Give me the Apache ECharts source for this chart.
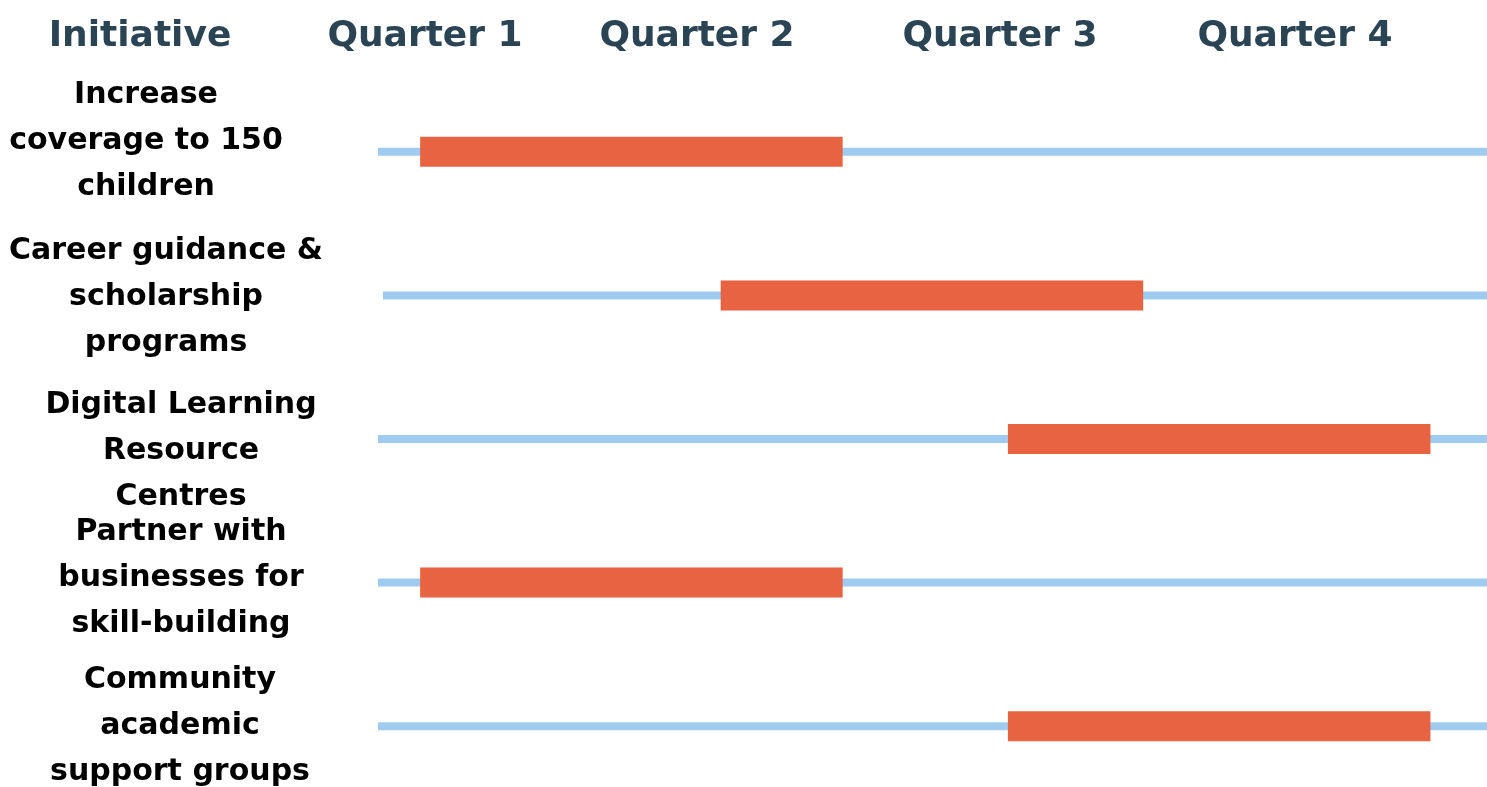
<!DOCTYPE html>
<html>
<head>
<meta charset="utf-8">
<script src="https://cdn.jsdelivr.net/npm/echarts@6/dist/echarts.min.js"></script>
<style>
    html, body { margin: 0; padding: 0; background: #fff; }
    #roadmap { width: 1487px; height: 787px; }
</style>
</head>
<body>
<div id="roadmap"></div>
<script>
    // header row
    var headerTitle = 'Initiative';
    var quarters = ['Quarter 1', 'Quarter 2', 'Quarter 3', 'Quarter 4'];

    // rows, top to bottom
    var initiatives = [
        'Increase\ncoverage to 150\nchildren',
        'Career guidance &\nscholarship\nprograms',
        'Digital Learning\nResource\nCentres',
        'Partner with\nbusinesses for\nskill-building',
        'Community\nacademic\nsupport groups'
    ];

    // timeline runs 0..100 across the plan year
    var lineStart = [0, 0.45, 0, 0, 0];
    var lineEnd = [100, 100, 100, 100, 100];
    var taskStart = [3.8, 30.9, 56.8, 3.8, 56.8];
    var taskEnd = [41.9, 69.0, 94.9, 41.9, 94.9];

    // layout
    var font = 'DejaVu Sans';
    var headerX = [140, 425, 697, 1000, 1295];
    var labelNudge = [[-20, -11], [0, 2], [15, 12], [15, -4], [14, 0]];

    // one rich style per row so each label can sit a little off centre
    var labelRich = {};
    labelNudge.forEach(function (n, i) {
        labelRich['t' + i] = {
            fontFamily: font,
            fontWeight: 'bold',
            fontSize: 30,
            lineHeight: 46,
            color: '#000',
            padding: n[0] < 0 ? [0, -2 * n[0], 0, 0] : [0, 0, 0, 2 * n[0]]
        };
        labelRich['v' + i] = {
            fontSize: 1,
            lineHeight: Math.max(1, 2 * Math.abs(n[1]))
        };
    });

    function formatLabel(value, index) {
        var lines = value.split('\n').map(function (line) {
            return '{t' + index + '|' + line + '}';
        });
        var dy = labelNudge[index][1];
        if (dy > 0) {
            lines.unshift('{v' + index + '| }');
        } else if (dy < 0) {
            lines.push('{v' + index + '| }');
        }
        return lines.join('\n');
    }

    function spanData(starts, ends) {
        return initiatives.map(function (name, i) {
            return [i, starts[i], ends[i]];
        });
    }

    function spanRenderer(thickness, color) {
        return function (params, api) {
            var row = api.value(0);
            var a = api.coord([api.value(1), row]);
            var b = api.coord([api.value(2), row]);
            return {
                type: 'rect',
                shape: { x: a[0], y: a[1] - thickness / 2, width: b[0] - a[0], height: thickness },
                style: { fill: color }
            };
        };
    }

    var chart = echarts.init(document.getElementById('roadmap'));

    var headerText = [headerTitle].concat(quarters).map(function (text, i) {
        return {
            type: 'text',
            x: headerX[i],
            y: 37,
            style: {
                text: text,
                font: 'bold 36px "' + font + '"',
                fill: '#2b4453',
                align: 'center',
                verticalAlign: 'middle'
            }
        };
    });

    chart.setOption({
        animation: false,
        graphic: headerText,
        grid: { left: 378, right: 0, top: 80, bottom: -11, outerBoundsMode: 'none' },
        xAxis: {
            type: 'value',
            min: 0,
            max: 100,
            show: false
        },
        yAxis: {
            type: 'category',
            inverse: true,
            data: initiatives,
            axisLine: { show: false },
            axisTick: { show: false },
            splitLine: { show: false },
            axisLabel: {
                margin: 212,
                interval: 0,
                showMinLabel: true,
                showMaxLabel: true,
                hideOverlap: false,
                align: 'center',
                verticalAlign: 'middle',
                fontFamily: font,
                fontWeight: 'bold',
                fontSize: 30,
                lineHeight: 46,
                color: '#000',
                formatter: formatLabel,
                rich: labelRich
            }
        },
        series: [
            {
                type: 'custom',
                renderItem: spanRenderer(8, '#a0cbf1'),
                encode: { x: [1, 2], y: 0 },
                data: spanData(lineStart, lineEnd)
            },
            {
                type: 'custom',
                renderItem: spanRenderer(30, '#e76341'),
                encode: { x: [1, 2], y: 0 },
                data: spanData(taskStart, taskEnd)
            }
        ]
    });
</script>
</body>
</html>
